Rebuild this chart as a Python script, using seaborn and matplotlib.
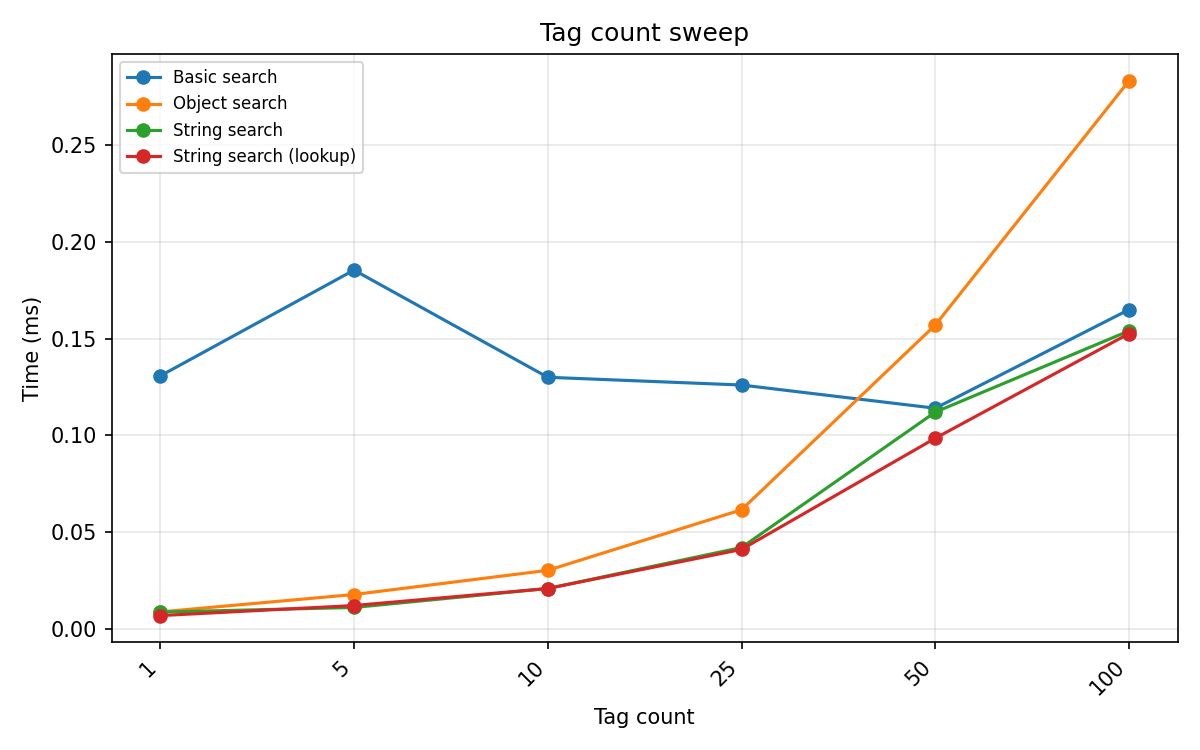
import pandas as pd
import matplotlib
matplotlib.use("Agg")
import matplotlib.pyplot as plt
import seaborn as sns

tag_counts = ["1", "5", "10", "25", "50", "100"]
basic = [0.1307, 0.1854, 0.1300, 0.1260, 0.1140, 0.1650]
obj = [0.0087, 0.0177, 0.0302, 0.0615, 0.1570, 0.2833]
string = [0.0086, 0.0110, 0.0208, 0.0420, 0.1120, 0.1540]
lookup = [0.0068, 0.0120, 0.0208, 0.0410, 0.0985, 0.1526]

series = {
    "Basic search": basic,
    "Object search": obj,
    "String search": string,
    "String search (lookup)": lookup,
}

rows = []
for name, vals in series.items():
    for i, (t, v) in enumerate(zip(tag_counts, vals)):
        rows.append({"pos": i, "tag": t, "time": v, "method": name})
df = pd.DataFrame(rows)

fig, ax = plt.subplots(figsize=(8, 5), dpi=150)
sns.lineplot(data=df, x="pos", y="time", hue="method", marker="o",
             markersize=7, markeredgewidth=0, linewidth=1.5,
             palette=["#1f77b4", "#ff7f0e", "#2ca02c", "#d62728"], ax=ax)

ax.set_xticks(range(len(tag_counts)))
ax.set_xticklabels(tag_counts, rotation=45, ha="right")
ax.set_xlabel("Tag count")
ax.set_ylabel("Time (ms)")
ax.set_title("Tag count sweep")
ax.grid(True, alpha=0.3)
ax.legend(title=None, loc="upper left", fontsize=8)

fig.tight_layout()
fig.savefig("out.png")
